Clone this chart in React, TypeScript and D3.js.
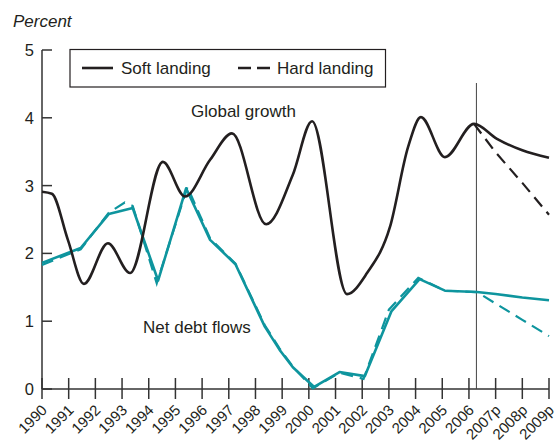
import React from "react";
import * as d3 from "d3";

// Tick labels
const yearTicks = [1990,1991,1992,1993,1994,1995,1996,1997,1998,1999,2000,2001,2002,2003,2004,2005,2006,2007,2008,2009];
const yearLabels = ["1990","1991","1992","1993","1994","1995","1996","1997","1998","1999","2000","2001","2002","2003","2004","2005","2006","2007p","2008p","2009p"];
const yTicks = [0,1,2,3,4,5];

// Global growth (soft landing) — [year, percent]
const growthSoft: [number, number][] = [
  [1990.0, 2.91],[1990.37, 2.88],[1990.97, 2.2],[1991.57, 1.55],[1992.47, 2.15],[1993.3, 1.71],
  [1994.53, 3.35],[1995.36, 2.84],[1996.3, 3.38],[1997.12, 3.77],[1998.4, 2.43],[1999.4, 3.16],
  [2000.12, 3.95],[2001.43, 1.40],[2002.18, 1.71],[2003.04, 2.39],[2003.72, 3.57],[2004.2, 4.01],
  [2005.1, 3.42],[2006.19, 3.91],[2007.05, 3.69],[2008.0, 3.52],[2009.0, 3.41]
];
// Global growth (hard landing) projection
const growthHard: [number, number][] = [
  [2006.19, 3.91],[2007.0, 3.49],[2008.0, 3.04],[2009.0, 2.57]
];
// Net debt flows (soft landing)
const debtSoft: [number, number][] = [
  [1990.0, 1.86],[1991.45, 2.08],[1992.5, 2.58],[1993.4, 2.67],[1994.35, 1.60],[1995.4, 2.96],
  [1996.3, 2.2],[1997.25, 1.84],[1998.35, 0.92],[1998.9, 0.58],[1999.4, 0.32],[2000.2, 0.03],
  [2001.15, 0.25],[2002.1, 0.19],[2003.1, 1.15],[2004.15, 1.62],[2005.1, 1.45],[2006.3, 1.43],
  [2007.0, 1.40],[2008.0, 1.35],[2009.0, 1.31]
];
// Net debt flows (hard landing)
const debtHard: [number, number][] = [
  [1990.0, 1.83],[1991.45, 2.06],[1992.5, 2.6],[1993.1, 2.75],[1993.4, 2.7],[1994.3, 1.56],[1995.45, 2.98],
  [1996.3, 2.22],[1997.25, 1.85],[1998.35, 0.94],[1998.9, 0.6],[1999.4, 0.33],[2000.15, 0.01],
  [2001.15, 0.24],[2002.05, 0.15],[2003.0, 1.17],[2004.1, 1.64],[2005.1, 1.45],[2006.3, 1.43],
  [2007.0, 1.26],[2008.0, 1.02],[2009.0, 0.78]
];
const projectionStart = 2006.28;

const BLACK = "#231f20";
const TEAL = "#0e959e";
const FONT = "'Liberation Sans', Arial, Helvetica, sans-serif";

export default function App() {
  const W = 558, H = 447;
  const x = d3.scaleLinear().domain([1990, 2009]).range([42, 549]);
  const y = d3.scaleLinear().domain([0, 5]).range([389, 50]);

  const smooth = d3.line<[number, number]>().x(d => x(d[0])).y(d => y(d[1])).curve(d3.curveMonotoneX);
  const straight = d3.line<[number, number]>().x(d => x(d[0])).y(d => y(d[1])).curve(d3.curveLinear);

  return (
    <svg width={W} height={H} style={{ position: "absolute", left: 0, top: 0, display: "block" }} fontFamily={FONT}>
      <rect x={0} y={0} width={W} height={H} fill="#fff" />
      <text x={13} y={27} fontSize={17} fontStyle="italic" fill={BLACK}>Percent</text>

      {/* y axis */}
      <line x1={x(1990)} x2={x(1990)} y1={y(5)} y2={y(0)} stroke="#333" strokeWidth={1.5} />
      {yTicks.map(t => (
        <g key={t}>
          <line x1={x(1990)} x2={x(1990) + 10} y1={y(t)} y2={y(t)} stroke="#333" strokeWidth={1.5} />
          <text x={34} y={y(t)} fontSize={16.5} textAnchor="end" dominantBaseline="central" fill={BLACK}>{t}</text>
        </g>
      ))}

      {/* x axis */}
      <line x1={x(1990)} x2={x(2009)} y1={y(0)} y2={y(0)} stroke="#333" strokeWidth={1.5} />
      {yearTicks.map((t, i) => (
        <g key={t}>
          <line x1={x(t)} x2={x(t)} y1={y(0) - 11} y2={y(0) + 10} stroke="#333" strokeWidth={1.5} />
          <text transform={`translate(${x(t) + 6},${y(0) + 22}) rotate(-45)`} fontSize={15} textAnchor="end" fill={BLACK}>{yearLabels[i]}</text>
        </g>
      ))}

      {/* projection divider */}
      <line x1={x(projectionStart)} x2={x(projectionStart)} y1={83} y2={y(0)} stroke="#444" strokeWidth={1} />

      {/* lines */}
      <path d={straight(debtHard) || ""} fill="none" stroke={TEAL} strokeWidth={2.2} strokeDasharray="12,7" />
      <path d={straight(debtSoft) || ""} fill="none" stroke={TEAL} strokeWidth={2.6} strokeLinejoin="round" />
      <path d={straight(growthHard) || ""} fill="none" stroke={BLACK} strokeWidth={2.2} strokeDasharray="12,7" />
      <path d={smooth(growthSoft) || ""} fill="none" stroke={BLACK} strokeWidth={2.6} />

      {/* annotations */}
      <text x={191} y={117} fontSize={17} fill={BLACK}>Global growth</text>
      <text x={143} y={333} fontSize={17} fill={BLACK}>Net debt flows</text>

      {/* legend */}
      <rect x={70} y={49.5} width={315.5} height={37.5} fill="#fff" stroke={BLACK} strokeWidth={1.2} />
      <line x1={82} x2={113} y1={68} y2={68} stroke={BLACK} strokeWidth={2.6} />
      <text x={121} y={74} fontSize={17} fill={BLACK}>Soft landing</text>
      <line x1={238} x2={270} y1={68} y2={68} stroke={BLACK} strokeWidth={2.4} strokeDasharray="13,6" />
      <text x={277} y={74} fontSize={17} fill={BLACK}>Hard landing</text>
    </svg>
  );
}
